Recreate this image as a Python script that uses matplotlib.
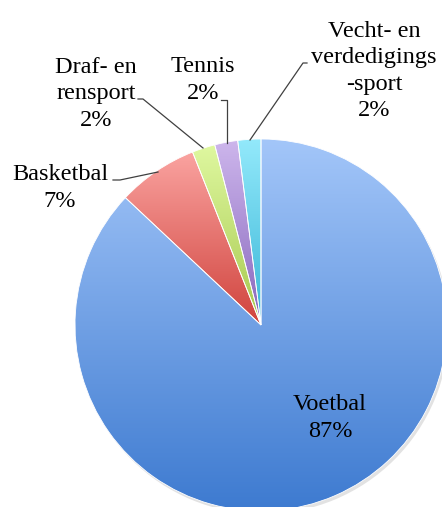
import numpy as np
import matplotlib
matplotlib.use("Agg")
import matplotlib.pyplot as plt
from matplotlib.colors import LinearSegmentedColormap

categories = ["Voetbal", "Basketbal", "Draf- en\nrensport", "Tennis", "Vecht- en\nverdedigings\n-sport"]
values = [87, 7, 2, 2, 2]
top_colors = ["#A3C6F9", "#FAA3A0", "#DFF8A0", "#CDB6EC", "#93E9FB"]
bottom_colors = ["#3D7AD0", "#D0433D", "#A6C84E", "#8766BC", "#38B5D6"]

W, H = 442, 507
fig = plt.figure(figsize=(W / 100, H / 100), dpi=100)
ax = fig.add_axes([0, 0, 1, 1])
ax.set_xlim(0, W)
ax.set_ylim(0, H)
ax.set_aspect("equal")
ax.axis("off")

cx, cy, R = 261, H - 325, 186

# subtle shadow
shadow, _ = ax.pie([1], radius=R, center=(cx + 2, cy - 3), colors=["#cfcfcf"],
                   wedgeprops=dict(linewidth=0))
for s in shadow:
    s.set_alpha(0.6)
    s.set_zorder(0)

wedges, _ = ax.pie(values, radius=R, center=(cx, cy), startangle=90,
                   counterclock=False, wedgeprops=dict(linewidth=0.6, edgecolor="white"))
ax.set_xlim(0, W)
ax.set_ylim(0, H)

for w, c0, c1 in zip(wedges, top_colors, bottom_colors):
    w.set_facecolor("none")
    w.set_zorder(3)
    fig.canvas.draw()
    path = w.get_path()
    verts = w.get_transform().transform(path.vertices)
    inv = ax.transData.inverted().transform(verts)
    x0, x1 = inv[:, 0].min(), inv[:, 0].max()
    y0, y1 = inv[:, 1].min(), inv[:, 1].max()
    cmap = LinearSegmentedColormap.from_list("g", [c1, c0])
    grad = np.linspace(0, 1, 256).reshape(-1, 1)
    im = ax.imshow(grad, cmap=cmap, extent=[x0, x1, y0, y1], origin="lower",
                   aspect="auto", zorder=2, interpolation="bilinear")
    im.set_clip_path(w)

font = dict(family="Liberation Serif", fontsize=17.5, color="black",
            ha="center", va="center", linespacing=1.32)

def P(x, y):
    return (x, H - y)

# Voetbal
ax.text(*P(330, 418), f"{categories[0]}\n{values[0]}%", **font, zorder=5)

line_kw = dict(color="#404040", lw=0.9, zorder=5)

# Basketbal
ax.text(*P(60, 188), f"{categories[1]}\n{values[1]}%", **font, zorder=5)
ax.plot(*zip(P(113, 180), P(120, 180), P(158, 172)), **line_kw)

# Draf- en rensport
ax.text(*P(96, 94), f"{categories[2]}\n{values[2]}%", **font, zorder=5)
ax.plot(*zip(P(138, 99), P(143, 99), P(203, 148)), **line_kw)

# Tennis
ax.text(*P(203, 80), f"{categories[3]}\n{values[3]}%", **font, zorder=5)
ax.plot(*zip(P(221, 100), P(227, 100), P(227, 143)), **line_kw)

# Vecht- en verdedigingssport
ax.text(*P(374, 71), f"{categories[4]}\n{values[4]}%", **font, zorder=5)
ax.plot(*zip(P(307, 63), P(303, 63), P(250, 140)), **line_kw)

fig.savefig("out.png", dpi=100, facecolor="white")
